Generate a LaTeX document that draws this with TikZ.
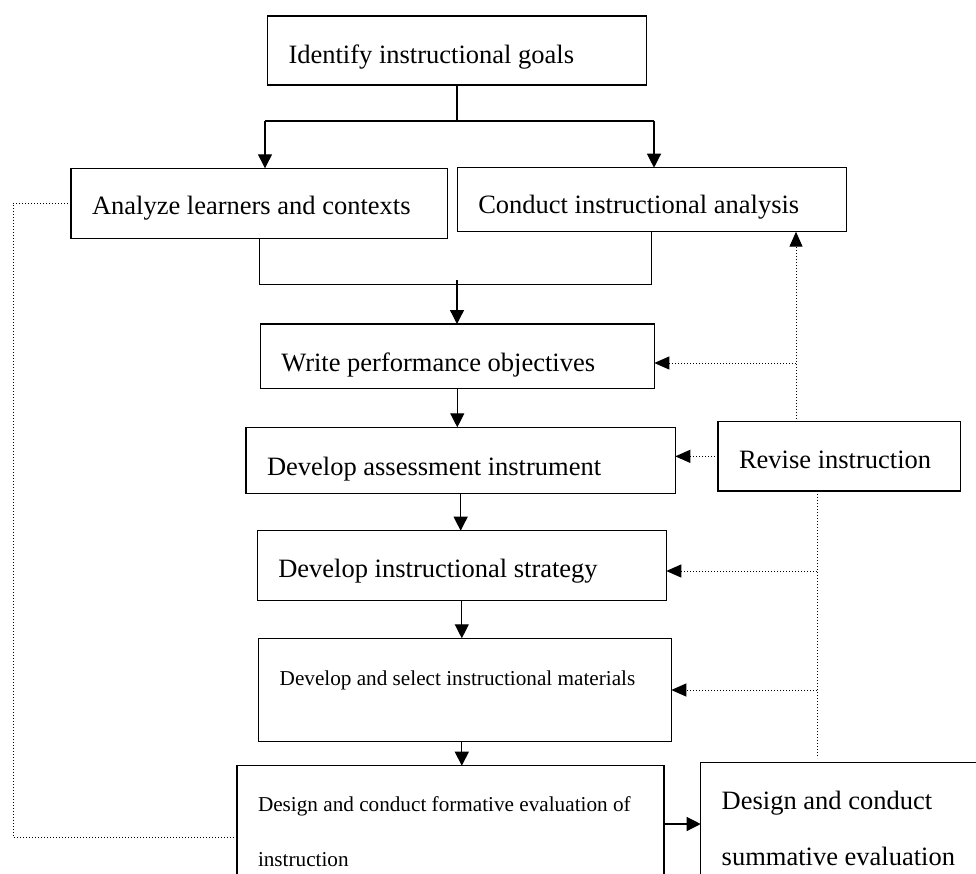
\documentclass[tikz,border=0pt]{standalone}
\usepackage{fontspec}
\setmainfont{Liberation Serif}
\usetikzlibrary{arrows.meta}
\newcommand{\mainsize}{\fontsize{26.5}{32}\selectfont}
\newcommand{\widesize}{\fontsize{26.5}{56}\selectfont}
\newcommand{\smallsize}{\fontsize{21.2}{55}\selectfont}

\begin{document}
\begin{tikzpicture}[
        x=1pt, y=-1pt,
        box/.style={draw, line width=1.3pt, anchor=north west, align=flush left,
            inner xsep=21pt, inner ysep=0pt, outer sep=0pt, font=\mainsize},
        link/.style={line width=1.3pt, -{Triangle[length=14pt,width=14pt]}},
        revline/.style={line width=1pt, dash pattern=on 1pt off 2pt},
        revlink/.style={revline, -{Triangle[length=15pt,width=13pt]}}
    ]
        \clip (0,0) rectangle (976,874);

        % Nodes
        \node[box, text width=337pt, text height=47.5pt, text depth=21.5pt] (goals) at (267.5,16) {Identify instructional goals};
        \node[box, text width=334.7pt, text height=46pt, text depth=24pt] (learners) at (71,168.3) {Analyze learners and contexts};
        \node[box, text width=347pt, text height=46.3pt, text depth=17.7pt] (analysis) at (457.3,167.7) {Conduct instructional analysis};
        \node[box, text width=352pt, text height=47.7pt, text depth=16.6pt] (objectives) at (260.3,324) {Write performance objectives};
        \node[box, text width=387.3pt, text height=47.7pt, text depth=18.3pt] (assessment) at (246,427.3) {Develop assessment instrument};
        \node[box, text width=367pt, text height=46.6pt, text depth=23.4pt] (strategy) at (257.3,530.7) {Develop instructional strategy};
        \node[box, font=\smallsize, text width=370.6pt, text height=46.7pt, text depth=56.7pt] (materials) at (258.7,638.3) {\smallsize Develop and select instructional materials};
        \node[box, font=\smallsize, text width=385pt, text height=46pt, text depth=88pt] (formative) at (237,765.7) {\smallsize Design and conduct formative evaluation of\\ instruction};
        \node[box, font=\widesize, text width=252pt, text height=47pt, text depth=91pt] (summative) at (700.7,762.3) {\widesize Design and conduct\\ summative evaluation};
        \node[box, text width=200.7pt, text height=46.6pt, text depth=22.7pt] (revise) at (718,421.7) {Revise instruction};

        % Split below the goals
        \coordinate (gl) at (265,121);
        \coordinate (gr) at (654,121);
        \draw[line width=1.3pt] (goals.south) -- (goals.south |- gl);
        \draw[line width=1.3pt] (gl) -- (gr);
        \draw[link] (gl) -- (gl |- learners.north);
        \draw[link] (gr) -- (gr |- analysis.north);

        % Merge into the objectives
        \draw[line width=1.3pt] (learners.south) -- ++(0,46) -| (analysis.south);
        \coordinate (merge) at (457,280);
        \draw[link] (merge) -- (merge |- objectives.north);

        % Main chain
        \draw[link] (objectives.south) -- (objectives.south |- assessment.north);
        \draw[link] (assessment.south) -- (assessment.south |- strategy.north);
        \draw[link] (strategy.south) -- (strategy.south |- materials.north);
        \draw[link] (materials.south -| strategy.south) -- (strategy.south |- formative.north);
        \coordinate (fs) at (664,824);
        \draw[link] (formative.east |- fs) -- (summative.west |- fs);

        % Feedback from revise instruction
        \coordinate (rvup) at (796,363);
        \draw[revlink] (revise.north -| rvup) -- (rvup |- analysis.south);
        \draw[revlink] (rvup) -- (objectives.east |- rvup);
        \draw[revlink] (revise.west) -- (assessment.east |- revise.west);
        \coordinate (rvdown) at (817,758);
        \coordinate (rvs) at (817,571);
        \coordinate (rvm) at (817,690);
        \draw[revline] (revise.south -| rvdown) -- (rvdown);
        \draw[revlink] (rvs) -- (strategy.east |- rvs);
        \draw[revlink] (rvm) -- (materials.east |- rvm);

        % Loop from the learners back to formative evaluation
        \coordinate (loop) at (13,837);
        \draw[revline] (learners.west) -| (loop) -- (formative.west |- loop);

\end{tikzpicture}
\end{document}
